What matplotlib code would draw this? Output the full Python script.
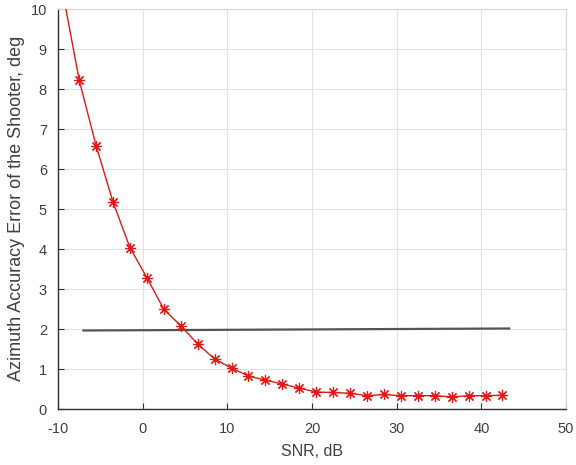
import matplotlib.pyplot as plt
import numpy as np

plt.rcParams['font.family'] = ['Liberation Sans', 'DejaVu Sans']
plt.rcParams['axes.unicode_minus'] = False

# SNR values (dB) for the marked points
snr = [-7.5, -5.5, -3.5, -1.5, 0.5, 2.5, 4.5, 6.5, 8.5, 10.5, 12.5, 14.5, 16.5,
       18.5, 20.5, 22.5, 24.5, 26.5, 28.5, 30.5, 32.5, 34.5, 36.5, 38.5, 40.5, 42.5]
# azimuth accuracy error, deg
err = [8.23, 6.59, 5.18, 4.04, 3.29, 2.50, 2.09, 1.63, 1.26, 1.03, 0.83, 0.73, 0.63,
       0.53, 0.43, 0.42, 0.40, 0.34, 0.37, 0.34, 0.34, 0.34, 0.31, 0.34, 0.34, 0.35]
# curve starts one step earlier (off the top of the axes)
snr_start = -9.5
err_start = 10.5

# reference (threshold) line
ref_x = [-7.0, 43.3]
ref_y = [1.97, 2.02]

fig = plt.figure(figsize=(5.76, 4.65), dpi=100)
ax = fig.add_axes([0.1007, 0.1198, 0.8819, 0.8602])

line_x = [snr_start] + snr
line_y = [err_start] + err
ax.plot(line_x, line_y, color='#e01818', lw=1.0, zorder=3)
ax.plot(snr, err, ls='none', marker=(8, 2, 0), ms=8, mew=0.85,
        color='#e01818', zorder=4)
ax.plot(ref_x, ref_y, color='#555555', lw=1.6, zorder=2)

ax.set_xlim(-10, 50)
ax.set_ylim(0, 10)
ax.set_xticks(np.arange(-10, 51, 10))
ax.set_yticks(np.arange(0, 11, 1))
ax.grid(True, color='#e3e3e3', lw=0.8)
ax.set_axisbelow(True)

for s in ['top', 'right']:
    ax.spines[s].set_color('#d8d8d8')
for s in ['left', 'bottom']:
    ax.spines[s].set_color('#303030')
    ax.spines[s].set_linewidth(1.0)

ax.tick_params(direction='in', length=4, colors='#303030', labelsize=10.5,
               labelcolor='#404040')
ax.tick_params(axis='x', pad=9)
ax.tick_params(axis='y', pad=8)
ax.set_xlabel('SNR, dB', fontsize=11.5, color='#404040', labelpad=6)
ax.set_ylabel('Azimuth Accuracy Error of the Shooter, deg', fontsize=13,
              color='#404040')
ax.yaxis.set_label_coords(-0.064, 0.503)

fig.savefig('out.png', dpi=100)
